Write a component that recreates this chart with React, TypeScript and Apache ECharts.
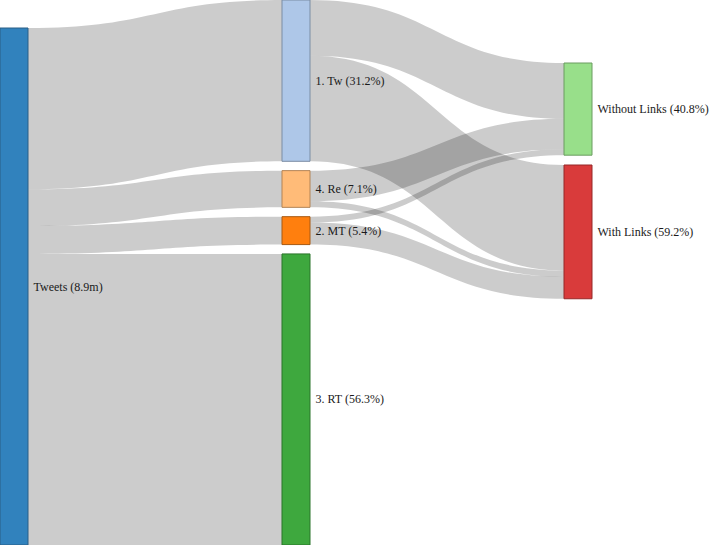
import React, { useEffect, useRef } from "react";
import * as echarts from "echarts";

const nodeNames = [
  "Tweets (8.9m)",
  "1. Tw (31.2%)",
  "4. Re (7.1%)",
  "2. MT (5.4%)",
  "3. RT (56.3%)",
  "Without Links (40.8%)",
  "With Links (59.2%)",
];
const nodeColors = ["#3182bd", "#aec7e8", "#ffbb78", "#ff7f0e", "#3ea83e", "#98df8a", "#d93b3b"];
const nodeBorders = ["#2a5f86", "#7b8da4", "#b38355", "#a85a12", "#2b752b", "#6b9c61", "#962929"];

const linkSources = [0, 0, 0, 0, 1, 1, 2, 2, 3, 3];
const linkTargets = [1, 2, 3, 4, 5, 6, 5, 6, 5, 6];
const linkValues = [31.2, 7.1, 5.4, 56.3, 10.8, 20.4, 5.9, 1.2, 1.13, 4.27];

// layout overrides (fractions of chart height) for nodes not packed by the column
const H = 545;
const nodeLocalY: (number | null)[] = [28 / H, null, null, null, null, 63 / H, 165 / H];

export default function App() {
  const ref = useRef<HTMLDivElement>(null);
  useEffect(() => {
    if (!ref.current) return;
    const chart = echarts.init(ref.current, undefined, { renderer: "svg" });
    const data = nodeNames.map((name, i) => {
      const item: any = {
        name,
        itemStyle: { color: nodeColors[i], borderColor: nodeBorders[i], borderWidth: 1 },
      };
      if (nodeLocalY[i] != null) item.localY = nodeLocalY[i];
      return item;
    });
    const links = linkSources.map((s, i) => ({
      source: nodeNames[s],
      target: nodeNames[linkTargets[i]],
      value: linkValues[i],
    }));
    chart.setOption({
      animation: false,
      series: [
        {
          type: "sankey",
          left: 0,
          top: 0,
          right: 122,
          bottom: 0,
          nodeWidth: 28,
          nodeGap: 9.33,
          nodeAlign: "left",
          layoutIterations: 0,
          draggable: false,
          emphasis: { disabled: true },
          data,
          links,
          label: {
            show: true,
            position: "right",
            distance: 5,
            fontFamily: "'Liberation Serif', 'Times New Roman', serif",
            fontSize: 12,
            color: "#1a1a1a",
          },
          lineStyle: { color: "#000", opacity: 0.2, curveness: 0.5 },
        },
      ],
    });
    return () => chart.dispose();
  }, []);
  return (
    <div
      ref={ref}
      style={{ position: "absolute", left: 0, top: 0, width: 714, height: 545 }}
    />
  );
}
